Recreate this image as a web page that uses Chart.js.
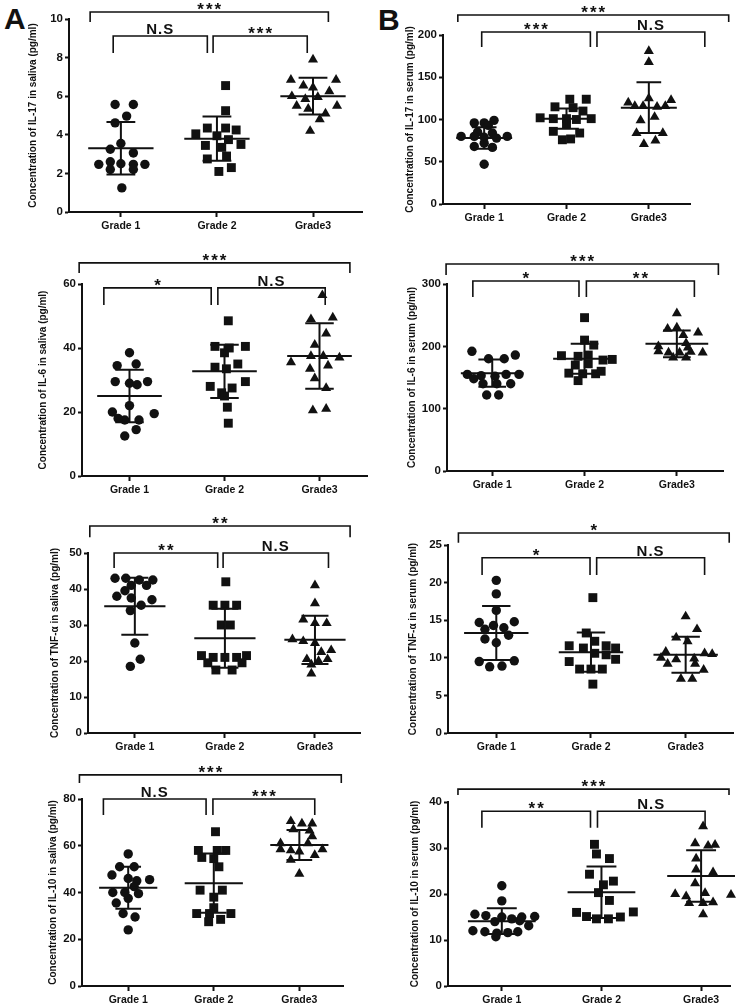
<!DOCTYPE html>
<html>
<head>
<meta charset="utf-8">
<script src="https://cdn.jsdelivr.net/npm/chart.js@4.4.0/dist/chart.umd.min.js"></script>
<style>
  body { margin: 0; background: #fff; }
  #page { position: relative; width: 755px; height: 1008px; overflow: hidden; background: #fff; }
  #page canvas { position: absolute; }
  .tag { position: absolute; font: bold 30px "Liberation Sans", Arial, sans-serif; line-height: 30px; color: #111; }
</style>
</head>
<body>
<div id="page">
  <div class="tag" style="left:4px;top:4px">A</div>
  <div class="tag" style="left:378px;top:5px">B</div>
</div>
<script>
const grades = ["Grade 1", "Grade 2", "Grade3"];

// each point: [offset from the column centre, value]
const il17Saliva = [
  [[0.13,5.57],[-0.06,5.57],[0.06,4.97],[-0.06,4.62],[0,3.55],[-0.11,3.25],[0.13,3.06],[-0.23,2.47],[-0.11,2.6],[0,2.5],[0.13,2.47],[0.25,2.47],[-0.11,2.2],[0.13,2.2],[0.01,1.25]],
  [[0.09,6.55],[0.09,5.25],[-0.1,4.35],[0.09,4.35],[0.2,4.25],[-0.22,4.05],[0,3.95],[0.12,3.75],[0.25,3.5],[-0.12,3.45],[0.05,3.35],[0.1,2.9],[-0.1,2.75],[0.15,2.3],[0.02,2.1]],
  [[0,7.9],[-0.23,6.85],[0.24,6.85],[-0.1,6.55],[0,6.45],[0.17,6.25],[-0.22,6.0],[0.05,5.95],[-0.08,5.85],[-0.17,5.5],[0.25,5.5],[-0.05,5.35],[0.13,5.1],[0.07,4.8],[-0.03,4.2]]
];
const il17SalivaMean = [3.3, 3.8, 6.0];
const il17SalivaSd = [1.36, 1.15, 0.95];

const il17Serum = [
  [[0.12,99],[-0.12,96],[0,96],[0.05,93],[-0.08,85],[0.1,84],[-0.28,80],[0.28,80],[-0.12,80],[0,79],[0.15,78],[0,72],[-0.12,68],[0.1,67],[0,47]],
  [[0.04,124],[0.24,124],[-0.14,115],[0.08,114],[0.2,110],[-0.32,102],[-0.16,101],[0,101],[0.12,100],[0.3,101],[0,94],[-0.16,86],[0.16,84],[0.05,77],[-0.05,76]],
  [[0,181],[0,168],[0,125],[0.27,123],[-0.25,120],[-0.17,116],[-0.07,116],[0.1,115],[0.2,116],[0.07,103],[-0.1,99],[-0.15,84],[0.17,84],[0.08,75],[-0.06,71]]
];
const il17SerumMean = [78, 101, 114];
const il17SerumSd = [12.7, 12, 30];

const il6Saliva = [
  [[0,38.5],[0.07,35],[-0.13,34.5],[-0.15,29.5],[0,29],[0.08,28.5],[0.19,29.5],[0,22],[-0.18,20],[0.26,19.5],[-0.05,17.5],[0.1,17.5],[-0.12,18],[0.07,14.5],[-0.05,12.5]],
  [[0.04,48.5],[-0.1,40.5],[0.05,40],[0.22,40.5],[0,38.5],[0.14,35],[-0.1,34],[0.02,33.5],[0.22,29.5],[-0.15,28],[0.08,27.5],[-0.03,26],[0,25],[0.03,21.5],[0.04,16.5]],
  [[0.03,56.5],[-0.09,49],[0.14,49.5],[0.07,44.5],[-0.05,41],[-0.09,37.5],[0.04,37.5],[0.21,37],[-0.3,35.5],[0.09,34.5],[-0.1,33.5],[-0.05,30.5],[0.07,27.5],[-0.07,20.5],[0.07,21]]
];
const il6SalivaMean = [25, 32.7, 37.5];
const il6SalivaSd = [8.2, 8.3, 10.2];

const il6Serum = [
  [[-0.22,192],[0.25,186],[-0.04,180],[0.13,180],[-0.27,155],[-0.12,153],[0.03,152],[0.15,155],[0.29,155],[-0.2,148],[-0.1,140],[0.05,140],[0.2,140],[-0.06,122],[0.07,122]],
  [[0,246],[0,210],[0.1,202],[-0.25,185],[-0.07,184],[0.04,186],[0.2,178],[0.3,179],[0.04,172],[-0.1,170],[-0.17,157],[-0.02,156],[0.12,156],[-0.07,145],[0.18,160]],
  [[0,253],[-0.1,228],[0,230],[0.23,222],[0.07,218],[0.1,205],[-0.2,200],[0.12,198],[-0.2,192],[-0.09,190],[0.03,190],[0.15,191],[0.28,190],[-0.04,182],[0.1,182]]
];
const il6SerumMean = [157, 180, 204];
const il6SerumSd = [22, 24, 21.5];

const tnfSaliva = [
  [[-0.22,43],[-0.1,43],[0.05,42.5],[0.2,42.5],[-0.04,41],[0.13,41],[-0.11,39.5],[-0.2,38],[-0.04,37.5],[0.19,37],[0.07,35.5],[-0.05,34],[0,25],[0.06,20.5],[-0.05,18.5]],
  [[0.01,42],[-0.13,35.5],[0,35.5],[0.13,35.5],[-0.04,30],[0.06,30],[-0.26,21.5],[-0.13,21],[0,21],[0.13,21],[0.24,21.5],[-0.19,19.5],[0.19,19.5],[-0.1,17.5],[0.08,17.5]],
  [[0,41],[0,36],[-0.13,31.5],[0,30.5],[0.13,30.5],[-0.25,26],[-0.13,25.5],[0,25],[0.18,23],[0.07,22.5],[-0.09,20.5],[0.04,20],[0.14,20.5],[-0.04,19],[-0.04,16.5]]
];
const tnfSalivaMean = [35.2, 26.3, 25.9];
const tnfSalivaSd = [7.9, 8.2, 6.7];

const tnfSerum = [
  [[0,20.3],[0,18.5],[0,16.3],[-0.18,14.7],[0.19,14.8],[-0.03,14.3],[0.08,14],[-0.12,13.8],[-0.12,12.5],[0.13,13],[0,12],[-0.18,9.5],[0.19,9.6],[-0.07,8.8],[0.06,8.9]],
  [[0.02,18],[-0.05,13.3],[0.04,12.2],[-0.23,11.6],[-0.08,11.3],[0.16,11.6],[0.26,11.3],[0.04,10.6],[0.16,10.4],[-0.23,9.5],[0.26,9.8],[-0.12,8.5],[0,8.5],[0.12,8.5],[0.02,6.5]],
  [[0,15.5],[0.12,13.8],[-0.1,12.7],[0.02,12.2],[-0.21,10.8],[0.2,10.6],[0.28,10.5],[-0.26,10],[-0.1,9.8],[0.09,9.9],[-0.19,9.2],[0.1,9.2],[0.19,8.4],[-0.05,7.2],[0.07,7.2]]
];
const tnfSerumMean = [13.3, 10.75, 10.4];
const tnfSerumSd = [3.6, 2.6, 2.4];

const il10Saliva = [
  [[0,56.5],[-0.1,51],[0.07,51],[-0.19,47.5],[0,46],[0.1,45],[0.25,45.5],[0.07,42.5],[-0.18,40],[-0.04,40],[0.12,39.5],[0,37.5],[-0.14,35.5],[-0.06,31],[0.08,29.5],[0,24]],
  [[0.02,66],[-0.18,58],[0.04,58],[0.14,58],[-0.14,55],[0,54.5],[0.06,51],[-0.16,41],[0.1,41],[0,38],[0,33.5],[-0.2,31],[-0.05,31],[0.2,31],[-0.06,27.5],[0.08,28.5]],
  [[-0.1,70.5],[0.03,69.5],[0.15,69.5],[-0.07,67],[0.12,66.5],[0.15,64],[-0.22,61],[0.1,61],[-0.22,58.5],[-0.1,58],[0.27,58.5],[0,57.5],[0.18,56],[-0.1,54],[0,48]]
];
const il10SalivaMean = [42, 44, 60.3];
const il10SalivaSd = [9, 12.7, 6.4];

const il10Serum = [
  [[0,21.8],[0,18.5],[-0.27,15.6],[-0.16,15.3],[0,15],[0.1,14.6],[0.2,15],[0.33,15.1],[-0.07,14],[0.18,14.2],[-0.29,12],[-0.17,11.8],[-0.05,11.5],[0.06,11.6],[0.16,11.8],[0.27,13.1],[-0.06,10.7]],
  [[-0.07,30.8],[-0.05,28.7],[0.08,27.7],[-0.12,24.3],[0.12,22.8],[0.02,22],[-0.03,20.3],[0.08,18.6],[-0.25,16],[0.32,16.1],[-0.15,15.1],[-0.05,14.6],[0.07,14.6],[0.19,15]],
  [[0.02,34.7],[-0.06,31],[0.07,30.5],[0.14,30.7],[-0.05,27.7],[-0.05,25.3],[0.12,24.7],[-0.06,22.3],[0.04,20.2],[-0.26,20],[-0.15,19.5],[0.3,19.8],[-0.12,18],[0.02,18],[0.12,18.2],[0.02,15.6]]
];
const il10SerumMean = [14.1, 20.4, 23.9];
const il10SerumSd = [2.8, 5.6, 5.6];

// significance brackets: [from x, to x, bar value, leg end value, label]
const il17SalivaSig = [[0.68,3.16,10.36,9.84,"***"],[0.92,1.9,9.12,8.24,"N.S"],[1.96,2.94,9.12,8.24,"***"]];
const il17SerumSig = [[0.68,3.97,223.7,215.4,"***"],[0.97,2.29,203.5,185.8,"***"],[2.37,3.68,203.5,185.8,"N.S"]];
const il6SalivaSig = [[0.47,3.32,66.6,63.4,"***"],[0.73,1.86,58.8,53.4,"*"],[1.93,3.06,58.8,53.4,"N.S"]];
const il6SerumSig = [[0.5,3.45,332,314.5,"***"],[0.79,1.94,304.8,279,"*"],[2.02,3.19,304.8,279,"**"]];
const tnfSalivaSig = [[0.5,3.39,57.5,54.4,"**"],[0.77,1.92,50,45.8,"**"],[1.98,3.15,50,45.8,"N.S"]];
const tnfSerumSig = [[0.6,3.46,26.6,25.3,"*"],[0.85,1.99,23.3,21,"*"],[2.06,3.2,23.3,21,"N.S"]];
const il10SalivaSig = [[0.43,3.49,90.3,86.8,"***"],[0.71,1.91,80,73.2,"N.S"],[1.99,3.18,80,73.2,"***"]];
const il10SerumSig = [[0.56,3.28,42.8,41.5,"***"],[0.8,1.89,38,34.4,"**"],[1.96,3.04,38,34.4,"N.S"]];

const panels = [
  { col: 0, L: 69, R: 362, T: 19, B: 212, titleX: 33, xMin: 0.46, xMax: 3.51, yMax: 10, step: 2,
    title: "Concentration of IL-17 in saliva (pg/ml)", pts: il17Saliva, mean: il17SalivaMean, sd: il17SalivaSd, sig: il17SalivaSig },
  { col: 1, L: 443, R: 690, T: 35, B: 204, titleX: 410, xMin: 0.5, xMax: 3.5, yMax: 200, step: 50,
    title: "Concentration of IL-17 in serum (pg/ml)", pts: il17Serum, mean: il17SerumMean, sd: il17SerumSd, sig: il17SerumSig },
  { col: 0, L: 82, R: 367, T: 284, B: 476, titleX: 43, xMin: 0.5, xMax: 3.5, yMax: 60, step: 20,
    title: "Concentration of IL-6 in saliva (pg/ml)", pts: il6Saliva, mean: il6SalivaMean, sd: il6SalivaSd, sig: il6SalivaSig },
  { col: 1, L: 447, R: 723, T: 284, B: 471, titleX: 412, xMin: 0.51, xMax: 3.5, yMax: 300, step: 100,
    title: "Concentration of IL-6 in serum (pg/ml)", pts: il6Serum, mean: il6SerumMean, sd: il6SerumSd, sig: il6SerumSig },
  { col: 0, L: 88, R: 360, T: 553, B: 733, titleX: 55, xMin: 0.48, xMax: 3.5, yMax: 50, step: 10,
    title: "Concentration of TNF-α in saliva (pg/ml)", pts: tnfSaliva, mean: tnfSalivaMean, sd: tnfSalivaSd, sig: tnfSalivaSig },
  { col: 1, L: 448, R: 733, T: 545, B: 733, titleX: 413, xMin: 0.49, xMax: 3.5, yMax: 25, step: 5,
    title: "Concentration of TNF-α in serum (pg/ml)", pts: tnfSerum, mean: tnfSerumMean, sd: tnfSerumSd, sig: tnfSerumSig },
  { col: 0, L: 82, R: 343, T: 799, B: 986, titleX: 53, xMin: 0.46, xMax: 3.51, yMax: 80, step: 20,
    title: "Concentration of IL-10 in saliva (pg/ml)", pts: il10Saliva, mean: il10SalivaMean, sd: il10SalivaSd, sig: il10SalivaSig },
  { col: 1, L: 448, R: 730, T: 802, B: 986, titleX: 415, xMin: 0.46, xMax: 3.29, yMax: 40, step: 10,
    title: "Concentration of IL-10 in serum (pg/ml)", pts: il10Serum, mean: il10SerumMean, sd: il10SerumSd, sig: il10SerumSig }
];

const ink = "#111";
const shapes = ["circle", "rect", "triangle"];
const radii = [4.7, 6.3, 5.8];
const page = document.getElementById("page");

function statsPlugin(p) {
  return {
    id: "stats",
    afterDatasetsDraw(chart) {
      const { ctx, scales: { x, y } } = chart;
      ctx.save();
      ctx.strokeStyle = ink;
      ctx.fillStyle = ink;
      ctx.lineWidth = 2;
      // mean and SD bars
      p.mean.forEach((m, i) => {
        const c = i + 1;
        const hi = m + p.sd[i], lo = m - p.sd[i];
        ctx.beginPath();
        ctx.moveTo(x.getPixelForValue(c - 0.34), y.getPixelForValue(m));
        ctx.lineTo(x.getPixelForValue(c + 0.34), y.getPixelForValue(m));
        ctx.moveTo(x.getPixelForValue(c - 0.15), y.getPixelForValue(hi));
        ctx.lineTo(x.getPixelForValue(c + 0.15), y.getPixelForValue(hi));
        ctx.moveTo(x.getPixelForValue(c - 0.15), y.getPixelForValue(lo));
        ctx.lineTo(x.getPixelForValue(c + 0.15), y.getPixelForValue(lo));
        ctx.moveTo(x.getPixelForValue(c), y.getPixelForValue(hi));
        ctx.lineTo(x.getPixelForValue(c), y.getPixelForValue(lo));
        ctx.stroke();
      });
      // significance brackets
      ctx.lineWidth = 1.6;
      ctx.textAlign = "center";
      ctx.textBaseline = "alphabetic";
      p.sig.forEach(([x1, x2, yb, yl, label]) => {
        const a = x.getPixelForValue(x1), b = x.getPixelForValue(x2);
        const yy = y.getPixelForValue(yb), ye = y.getPixelForValue(yl);
        ctx.beginPath();
        ctx.moveTo(a, ye);
        ctx.lineTo(a, yy);
        ctx.lineTo(b, yy);
        ctx.lineTo(b, ye);
        ctx.stroke();
        if (label === "N.S") {
          ctx.font = 'bold 15px "Liberation Sans", Arial, sans-serif';
          ctx.letterSpacing = "1px";
          ctx.fillText(label, (a + b) / 2, yy - 2);
        } else {
          ctx.font = 'bold 17px "Liberation Sans", Arial, sans-serif';
          ctx.letterSpacing = "2px";
          ctx.fillText(label, (a + b) / 2 + 1, yy + 3);
        }
      });
      ctx.restore();
    }
  };
}

panels.forEach((p) => {
  const colLeft = p.col === 0 ? 0 : 375;
  const colWidth = p.col === 0 ? 375 : 380;
  const canvas = document.createElement("canvas");
  canvas.width = colWidth;
  canvas.height = p.B - p.T + 50 + 34;
  canvas.style.left = colLeft + "px";
  canvas.style.top = (p.T - 50) + "px";
  page.appendChild(canvas);

  const halfLine = 6; // half the title line height
  new Chart(canvas, {
    type: "scatter",
    data: {
      datasets: p.pts.map((grp, i) => ({
        data: grp.map(([dx, v]) => ({ x: i + 1 + dx, y: v })),
        pointStyle: shapes[i],
        pointRadius: radii[i],
        backgroundColor: ink,
        borderColor: ink,
        borderWidth: 0,
        clip: false
      }))
    },
    options: {
      responsive: false,
      animation: false,
      events: [],
      layout: {
        padding: { left: p.titleX - colLeft - halfLine, top: 50, right: colLeft + colWidth - p.R, bottom: 0 }
      },
      plugins: { legend: { display: false }, tooltip: { enabled: false } },
      scales: {
        x: {
          type: "linear",
          min: p.xMin,
          max: p.xMax,
          afterFit: (s) => { s.height = 34; },
          afterBuildTicks: (s) => { s.ticks = [1, 2, 3].map((v) => ({ value: v })); },
          ticks: {
            callback: (v) => grades[v - 1],
            color: ink,
            padding: 3,
            maxRotation: 0,
            font: { family: "Liberation Sans", weight: "bold", size: 10.5 }
          },
          grid: { drawOnChartArea: false, tickLength: 5, tickWidth: 2, color: ink },
          border: { color: ink, width: 2 }
        },
        y: {
          min: 0,
          max: p.yMax,
          afterFit: (s) => { s.width = p.L - p.titleX + halfLine; },
          ticks: {
            stepSize: p.step,
            color: ink,
            padding: 2,
            font: { family: "Liberation Sans", weight: "bold", size: 11.5 }
          },
          grid: { drawOnChartArea: false, tickLength: 4, tickWidth: 2, color: ink },
          border: { color: ink, width: 2 },
          title: {
            display: true,
            text: p.title,
            color: ink,
            padding: 0,
            font: { family: "Liberation Sans", weight: "bold", size: 10 }
          }
        }
      }
    },
    plugins: [statsPlugin(p)]
  });
});
</script>
</body>
</html>
